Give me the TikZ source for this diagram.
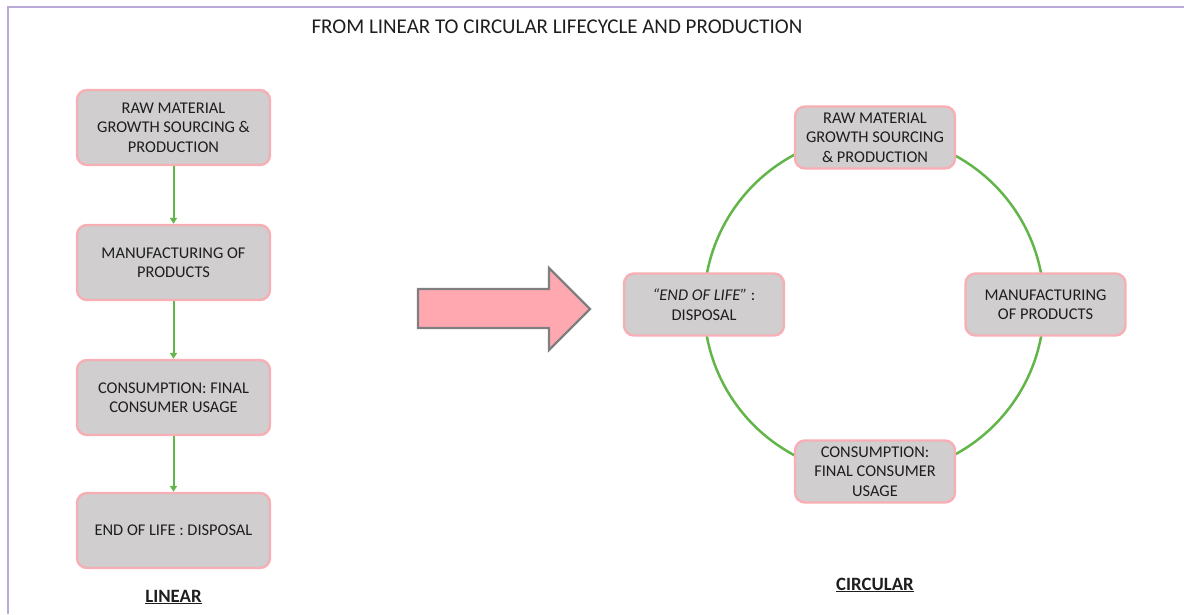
\documentclass[tikz,border=0pt]{standalone}
\usepackage{fontspec}
\setmainfont{Carlito}
\usetikzlibrary{arrows.meta}
\definecolor{boxfill}{HTML}{D0CECE}
\definecolor{boxline}{HTML}{F7AEB4}
\definecolor{flow}{HTML}{62B549}
\definecolor{bigarrow}{HTML}{FFA8B0}
\definecolor{arrowline}{HTML}{7F7F7F}
\definecolor{frame}{HTML}{B8A9D6}
\definecolor{ink}{HTML}{1E1E1E}
\begin{document}
\begin{tikzpicture}[x=1pt,y=-1pt,
  stagebox/.style={draw=boxline, line width=2.4pt, fill=boxfill, rounded corners=10pt,
    align=center, inner sep=2pt, text=ink, font=\fontsize{16.4}{19.5}\selectfont},
  linearbox/.style={stagebox, minimum width=193pt, minimum height=75pt},
  ringbox/.style={stagebox, minimum width=160pt, minimum height=62pt},
  flowarrow/.style={draw=flow, line width=2pt, -{Triangle[width=7pt,length=6pt]}},
  caption/.style={text=ink, font=\fontsize{18.8}{22}\selectfont\bfseries}]
\useasboundingbox (0,0) rectangle (1184,614);
% frame lines along the top and left edges
\draw[frame, line width=2.6pt] (8,614) -- (8,7) -- (1184,7);
% title
\node[text=ink, font=\fontsize{21}{24}\selectfont] (title) at (557,27) {FROM LINEAR TO CIRCULAR LIFECYCLE AND PRODUCTION};
% linear chain
\node[linearbox] (l1) at (173.5,127.5) {RAW MATERIAL\\GROWTH SOURCING \&\\PRODUCTION};
\node[linearbox] (l2) at (173.5,262.5) {MANUFACTURING OF\\PRODUCTS};
\node[linearbox] (l3) at (173.5,397.5) {CONSUMPTION: FINAL\\CONSUMER USAGE};
\node[linearbox] (l4) at (173.5,530.5) {END OF LIFE : DISPOSAL};
\draw[flowarrow] (l1.south) -- (l2.north);
\draw[flowarrow] (l2.south) -- (l3.north);
\draw[flowarrow] (l3.south) -- (l4.north);
\node[caption] (lincap) at (173.5,597) {\underline{LINEAR}};
% block arrow between the two layouts
\draw[fill=bigarrow, draw=arrowline, line width=2.2pt]
  (418,289) -- (549,289) -- (549,268) -- (590,309) -- (549,350) -- (549,328) -- (418,328) -- cycle;
% circular cycle
\coordinate (hub) at (874,305);
\draw[flow, line width=2.5pt] (hub) circle[radius=170];
\node[ringbox] (c1) at (875,137.5) {RAW MATERIAL\\GROWTH SOURCING\\\& PRODUCTION};
\node[ringbox] (c2) at (1045.5,304.5) {MANUFACTURING\\OF PRODUCTS};
\node[ringbox] (c3) at (875,471.5) {CONSUMPTION:\\FINAL CONSUMER\\USAGE};
\node[ringbox] (c4) at (704,304.5) {\textit{“END OF LIFE”} :\\DISPOSAL};
\node[caption] (circcap) at (875,585) {\underline{CIRCULAR}};
\end{tikzpicture}
\end{document}
